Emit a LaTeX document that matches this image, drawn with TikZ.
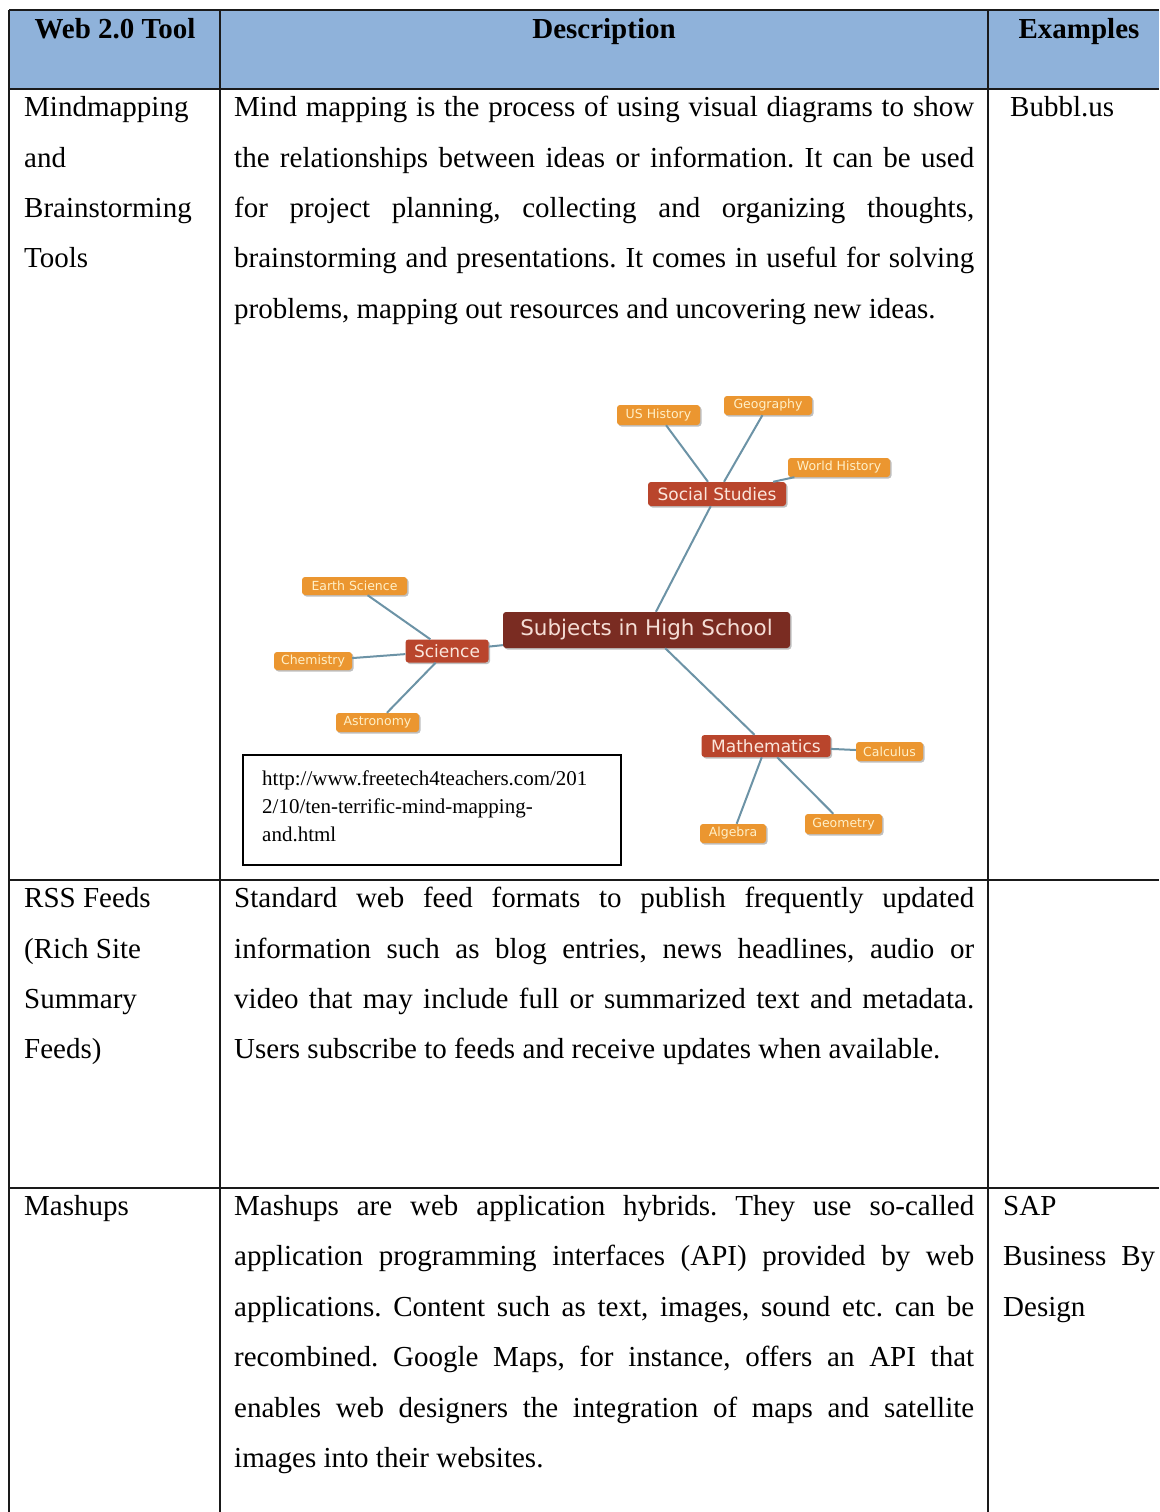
\documentclass[tikz,border=0pt]{standalone}
\usepackage{fontspec}
\setmainfont{Liberation Serif}
\newfontfamily\mapfont{DejaVu Sans}
\usetikzlibrary{shadows}
\frenchspacing

\definecolor{headerblue}{RGB}{143,178,218}
\definecolor{gridink}{RGB}{26,26,26}
\definecolor{mapline}{RGB}{108,147,166}
\definecolor{leafbg}{RGB}{235,150,48}
\definecolor{leafink}{RGB}{255,240,200}
\definecolor{midbg}{RGB}{185,69,44}
\definecolor{midink}{RGB}{251,230,220}
\definecolor{corebg}{RGB}{122,44,34}
\definecolor{coreink}{RGB}{245,221,213}

\newcommand{\jline}[2]{\makebox[#1][s]{#2}}

\begin{document}
\begin{tikzpicture}[x=1pt,y=-1pt,
  hrule/.style={gridink,line width=2.6pt},
  vrule/.style={gridink,line width=1.4pt},
  body/.style={anchor=base west,inner sep=0pt,font=\fontsize{29pt}{34pt}\selectfont},
  head/.style={anchor=base,inner sep=0pt,font=\fontsize{29pt}{34pt}\selectfont\bfseries},
  urltext/.style={anchor=base west,inner sep=0pt,font=\fontsize{21pt}{26pt}\selectfont},
  mapbox/.style={rounded corners=3pt,inner sep=0pt,
    drop shadow={shadow xshift=1.5pt,shadow yshift=-1.5pt,opacity=.25,fill=black}},
  corenode/.style={mapbox,fill=corebg,text=coreink,font=\mapfont\fontsize{21.5pt}{24pt}\selectfont},
  midnode/.style={mapbox,fill=midbg,text=midink,font=\mapfont\fontsize{17pt}{19pt}\selectfont},
  leafnode/.style={mapbox,fill=leafbg,text=leafink,font=\mapfont\fontsize{12.5pt}{14pt}\selectfont},
  link/.style={mapline,line width=2pt}
]
\useasboundingbox (0,0) rectangle (1159,1512);
\fill[white] (0,0) rectangle (1159,1512);

% header band
\fill[headerblue] (9,10) rectangle (1159,89);

% table grid
\draw[vrule] (9,10) -- (9,1512);
\draw[vrule] (220,10) -- (220,1512);
\draw[vrule] (988,10) -- (988,1512);
\draw[hrule] (9,10) -- (1159,10);
\draw[hrule] (9,89) -- (1159,89);
\draw[hrule] (9,880) -- (1159,880);
\draw[hrule] (9,1188) -- (1159,1188);

% header
\node[head] (h1) at (115,39) {Web 2.0 Tool};
\node[head] (h2) at (604,39) {Description};
\node[head] (h3) at (1079,39) {Examples};

% row 1: mind mapping
\node[body] (a1) at (24,116) {Mindmapping};
\node[body] (a2) at (24,167) {and};
\node[body] (a3) at (24,217) {Brainstorming};
\node[body] (a4) at (24,267) {Tools};
\node[body] (b1) at (234,116) {\jline{740pt}{Mind mapping is the process of using visual diagrams to show}};
\node[body] (b2) at (234,167) {\jline{740pt}{the relationships between ideas or information. It can be used}};
\node[body] (b3) at (234,217) {\jline{740pt}{for project planning, collecting and organizing thoughts,}};
\node[body] (b4) at (234,267) {\jline{740pt}{brainstorming and presentations. It comes in useful for solving}};
\node[body] (b5) at (234,318) {problems, mapping out resources and uncovering new ideas.};
\node[body] (c1) at (1010,116) {Bubbl.us};

% source box
\node[draw=black,line width=1.4pt,minimum width=378pt,minimum height=110pt,inner sep=0pt] (src) at (432,810) {};
\node[urltext] (u1) at (262,785) {http://www.freetech4teachers.com/201};
\node[urltext] (u2) at (262,813) {2/10/ten-terrific-mind-mapping-};
\node[urltext] (u3) at (262,841) {and.html};

% mind map
\node[corenode,minimum width=287pt,minimum height=36pt] (core) at (646.5,630) {Subjects in High School};
\node[midnode,minimum width=138pt,minimum height=24pt] (soc) at (717,494) {Social Studies};
\node[midnode,minimum width=83pt,minimum height=23pt] (sci) at (447,651) {Science};
\node[midnode,minimum width=129pt,minimum height=22pt] (math) at (766,746) {Mathematics};

\node[leafnode,minimum width=83pt,minimum height=20pt] (ush) at (658.5,415) {US History};
\node[leafnode,minimum width=88pt,minimum height=19pt] (geo) at (768,405.5) {Geography};
\node[leafnode,minimum width=102pt,minimum height=19pt] (wh) at (839,467.5) {World History};
\node[leafnode,minimum width=105pt,minimum height=18pt] (earth) at (354.5,586) {Earth Science};
\node[leafnode,minimum width=78pt,minimum height=18pt] (chem) at (313,661) {Chemistry};
\node[leafnode,minimum width=83pt,minimum height=19pt] (astro) at (377.5,722.5) {Astronomy};
\node[leafnode,minimum width=67pt,minimum height=19pt] (calc) at (889.5,751.5) {Calculus};
\node[leafnode,minimum width=66pt,minimum height=19pt] (alg) at (733,833.5) {Algebra};
\node[leafnode,minimum width=77pt,minimum height=20pt] (geom) at (843.5,824) {Geometry};

\draw[link] (core) -- (soc);
\draw[link] (core) -- (sci);
\draw[link] (core) -- (math);
\draw[link] (soc) -- (ush);
\draw[link] (soc) -- (geo);
\draw[link] (soc) -- (wh);
\draw[link] (sci) -- (earth);
\draw[link] (sci) -- (chem);
\draw[link] (sci) -- (astro);
\draw[link] (math) -- (calc);
\draw[link] (math) -- (alg);
\draw[link] (math) -- (geom);

% row 2: RSS
\node[body] (d1) at (24,907) {RSS Feeds};
\node[body] (d2) at (24,958) {(Rich Site};
\node[body] (d3) at (24,1008) {Summary};
\node[body] (d4) at (24,1058) {Feeds)};
\node[body] (e1) at (234,907) {\jline{740pt}{Standard web feed formats to publish frequently updated}};
\node[body] (e2) at (234,958) {\jline{740pt}{information such as blog entries, news headlines, audio or}};
\node[body] (e3) at (234,1008) {\jline{740pt}{video that may include full or summarized text and metadata.}};
\node[body] (e4) at (234,1058) {Users subscribe to feeds and receive updates when available.};

% row 3: mashups
\node[body] (f1) at (24,1215) {Mashups};
\node[body] (g1) at (234,1215) {\jline{740pt}{Mashups are web application hybrids. They use so-called}};
\node[body] (g2) at (234,1265) {\jline{740pt}{application programming interfaces (API) provided by web}};
\node[body] (g3) at (234,1316) {\jline{740pt}{applications. Content such as text, images, sound etc. can be}};
\node[body] (g4) at (234,1366) {\jline{740pt}{recombined. Google Maps, for instance, offers an API that}};
\node[body] (g5) at (234,1417) {\jline{740pt}{enables web designers the integration of maps and satellite}};
\node[body] (g6) at (234,1467) {images into their websites.};
\node[body] (k1) at (1003,1215) {SAP};
\node[body] (k2) at (1003,1265) {\jline{152pt}{Business By}};
\node[body] (k3) at (1003,1316) {Design};
\end{tikzpicture}
\end{document}
